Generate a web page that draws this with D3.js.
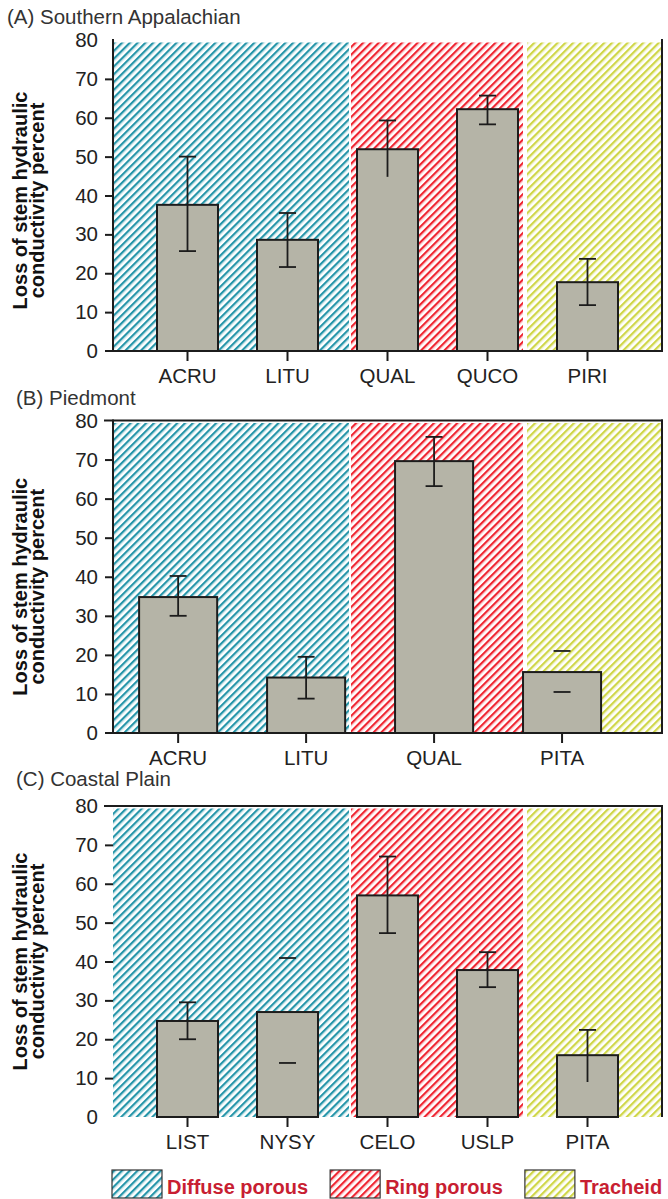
<!DOCTYPE html>
<html>
<head>
<meta charset="utf-8">
<script src="https://cdn.jsdelivr.net/npm/d3@7"></script>
<style>
  html, body { margin: 0; padding: 0; background: #fff; }
  svg { display: block; }
</style>
</head>
<body>
<svg id="chart" width="668" height="1199"></svg>
<script>
// ---------------- DATA ----------------
const yTicks = [0, 10, 20, 30, 40, 50, 60, 70, 80];

const titleA = "(A) Southern Appalachian";
const catsA = ["ACRU", "LITU", "QUAL", "QUCO", "PIRI"];
const meanA = [37.6, 28.6, 51.9, 62.2, 17.7];
const lowA  = [25.7, 21.6, 44.8, 58.3, 11.8];
const highA = [50.0, 35.5, 59.3, 65.7, 23.7];
const errStyleA = ["full", "full", "noLowCap", "full", "full"];

const titleB = "(B) Piedmont";
const catsB = ["ACRU", "LITU", "QUAL", "PITA"];
const meanB = [34.8, 14.2, 69.6, 15.6];
const lowB  = [30.0, 8.8, 63.2, 10.5];
const highB = [40.2, 19.5, 75.8, 21.0];
const errStyleB = ["full", "full", "full", "capsOnly"];

const titleC = "(C) Coastal Plain";
const catsC = ["LIST", "NYSY", "CELO", "USLP", "PITA"];
const meanC = [24.7, 27.0, 57.0, 37.8, 15.9];
const lowC  = [20.0, 13.9, 47.3, 33.4, 9.0];
const highC = [29.5, 40.9, 67.0, 42.4, 22.4];
const errStyleC = ["full", "capsOnly", "full", "full", "noLowCap"];

// wood-anatomy groups: share of the plot width each background covers
const groupNames = ["Diffuse porous", "Ring porous", "Tracheid"];
const groupKeys  = ["diffuse", "ring", "tracheid"];
const groupFrom  = [0.000, 0.4335, 0.7541];
const groupTo    = [0.4299, 0.7468, 1.000];

const yLabelLines = ["Loss of stem hydraulic", "conductivity percent"];

// ---------------- STYLE ----------------
const hatch = {
  diffuse:  { strong: "#2595a9", light: "#9fd0d9" },
  ring:     { strong: "#ef2430", light: "#f8a3a8" },
  tracheid: { strong: "#cfd647", light: "#e9eca8" }
};
const barFill = "#b5b4a7";
const ink = "#1c1c1c";
const legendRed = "#c81e32";
const fontLight = "'Liberation Sans', Arial, sans-serif";

const svg = d3.select("#chart");
const defs = svg.append("defs");

groupKeys.forEach(k => {
  const p = defs.append("pattern")
    .attr("id", "hatch-" + k)
    .attr("patternUnits", "userSpaceOnUse")
    .attr("width", 5.5).attr("height", 10)
    .attr("patternTransform", "rotate(45)");
  p.append("rect").attr("width", 5.5).attr("height", 10).attr("fill", "#fff");
  p.append("rect").attr("x", 0).attr("width", 2.1).attr("height", 10).attr("fill", hatch[k].strong);
  p.append("rect").attr("x", 2.1).attr("width", 0.9).attr("height", 10).attr("fill", hatch[k].light);
});

const left = 113, right = 662;

const panels = [
  { title: titleA, titleX: 7, titleY: 24, top: 40, bottom: 351, cats: catsA, mean: meanA, low: lowA, high: highA, err: errStyleA,
    align: 0.5, padOuter: 0.44, leftAxis: true, topLine: false, bottomLine: true, labelShift: 5 },
  { title: titleB, titleX: 16, titleY: 405, top: 420.5, bottom: 733, cats: catsB, mean: meanB, low: lowB, high: highB, err: errStyleB,
    align: 0.3, padOuter: 0.34, leftAxis: true, topLine: true, bottomLine: true, labelShift: 10 },
  { title: titleC, titleX: 16, titleY: 786, top: 806, bottom: 1117, cats: catsC, mean: meanC, low: lowC, high: highC, err: errStyleC,
    align: 0.5, padOuter: 0.44, leftAxis: false, topLine: true, bottomLine: false, labelShift: 0 }
];

const gx = d3.scaleLinear().domain([0, 1]).range([left, right]);

panels.forEach(P => {
  const g = svg.append("g");
  const y = d3.scaleLinear().domain([0, 80]).range([P.bottom, P.top]);
  const x = d3.scaleBand().domain(P.cats).range([left, right])
    .paddingInner(0.39).paddingOuter(P.padOuter).align(P.align);

  // title
  g.append("text").attr("x", P.titleX).attr("y", P.titleY)
    .attr("font-family", fontLight).attr("font-size", 20.5).attr("fill", "#333")
    .text(P.title);

  // backgrounds
  groupKeys.forEach((k, i) => {
    g.append("rect")
      .attr("x", gx(groupFrom[i])).attr("width", gx(groupTo[i]) - gx(groupFrom[i]))
      .attr("y", y(80) + 2.5).attr("height", y(0) - y(80) - 2.5)
      .attr("fill", `url(#hatch-${k})`);
  });

  // bars
  g.selectAll("rect.bar").data(P.cats).enter().append("rect")
    .attr("class", "bar")
    .attr("x", d => x(d)).attr("width", x.bandwidth())
    .attr("y", (d, i) => y(P.mean[i])).attr("height", (d, i) => y(0) - y(P.mean[i]))
    .attr("fill", barFill).attr("stroke", ink).attr("stroke-width", 2);

  // error bars
  const capW = 17;
  P.cats.forEach((c, i) => {
    const cx = x(c) + x.bandwidth() / 2;
    const st = P.err[i];
    const eg = g.append("g").attr("stroke", ink).attr("stroke-width", 1.8);
    if (st !== "capsOnly") {
      eg.append("line").attr("x1", cx).attr("x2", cx).attr("y1", y(P.high[i])).attr("y2", y(P.low[i]));
    }
    eg.append("line").attr("x1", cx - capW / 2).attr("x2", cx + capW / 2).attr("y1", y(P.high[i])).attr("y2", y(P.high[i]));
    if (st !== "noLowCap") {
      eg.append("line").attr("x1", cx - capW / 2).attr("x2", cx + capW / 2).attr("y1", y(P.low[i])).attr("y2", y(P.low[i]));
    }
  });

  // y axis ticks + labels
  const ya = g.append("g").attr("transform", `translate(${left},0)`)
    .call(d3.axisLeft(y).tickValues(yTicks).tickSize(8).tickPadding(8));
  ya.select(".domain").remove();
  ya.selectAll(".tick line").attr("stroke", ink).attr("stroke-width", 2)
    .attr("display", d => (d === 0 || d === 80) ? "none" : null);
  ya.selectAll(".tick text").attr("font-family", fontLight).attr("font-size", 20.5)
    .attr("fill", "#222").attr("x", -15);

  // frame lines
  const fr = g.append("g").attr("stroke", ink).attr("stroke-width", 2).attr("fill", "none");
  if (P.leftAxis) fr.append("line").attr("x1", left).attr("x2", left).attr("y1", y(80) - 1).attr("y2", y(0));
  if (P.topLine) fr.append("line").attr("x1", left - 9).attr("x2", right + 1).attr("y1", y(80)).attr("y2", y(80));
  if (P.bottomLine) fr.append("line").attr("x1", left - 8).attr("x2", right + 1).attr("y1", y(0)).attr("y2", y(0));
  fr.append("line").attr("x1", right).attr("x2", right).attr("y1", y(80) - 1).attr("y2", y(0));

  // x axis
  const xa = g.append("g").attr("transform", `translate(0,${y(0)})`)
    .call(d3.axisBottom(x).tickSize(10).tickPadding(7));
  xa.select(".domain").remove();
  xa.selectAll(".tick line").attr("stroke", ink).attr("stroke-width", 2);
  xa.selectAll(".tick text").attr("font-family", fontLight).attr("font-size", 20.5).attr("fill", "#222");

  // y label
  const cy = (y(0) + y(80)) / 2 + P.labelShift;
  const yl = g.append("text")
    .attr("transform", `translate(0,${cy}) rotate(-90)`)
    .attr("text-anchor", "middle")
    .attr("font-family", "'Liberation Sans', Arial, sans-serif")
    .attr("font-weight", "bold").attr("font-size", 20).attr("fill", "#111");
  yl.append("tspan").attr("x", 0).attr("y", 27).text(yLabelLines[0]);
  yl.append("tspan").attr("x", 0).attr("y", 44).text(yLabelLines[1]);
});

// legend
const lg = svg.append("g");
let lx = 112;
groupKeys.forEach((k, i) => {
  lg.append("rect").attr("x", lx).attr("y", 1170).attr("width", 50).attr("height", 28)
    .attr("fill", `url(#hatch-${k})`).attr("stroke", "#333").attr("stroke-width", 1.2);
  const t = lg.append("text").attr("x", lx + 55).attr("y", 1194)
    .attr("font-family", "'Liberation Sans', Arial, sans-serif").attr("font-weight", "bold")
    .attr("font-size", 20).attr("fill", legendRed).text(groupNames[i]);
  lx += 55 + t.node().getComputedTextLength() + 22;
});
</script>
</body>
</html>
